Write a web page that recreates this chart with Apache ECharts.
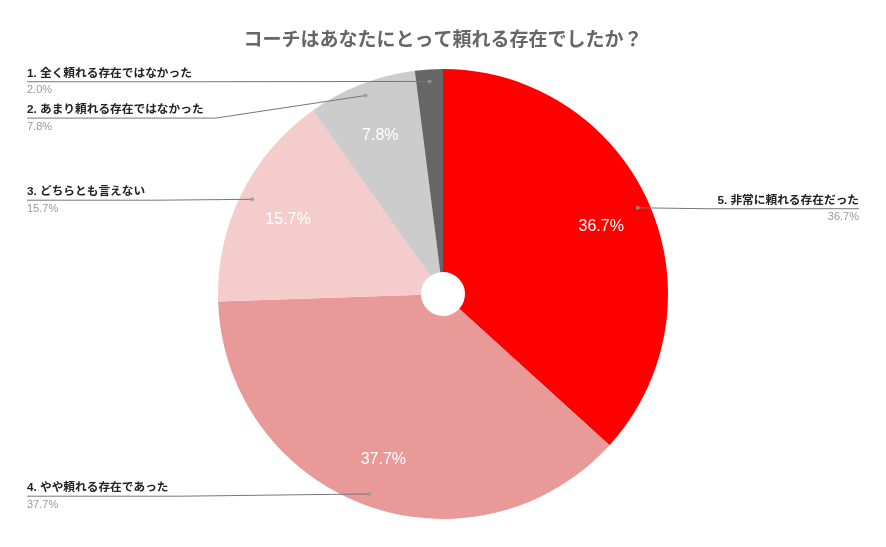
<!DOCTYPE html>
<html><head><meta charset="utf-8">
<script src="https://cdn.jsdelivr.net/npm/echarts@6/dist/echarts.min.js"></script>
<style>html,body{margin:0;padding:0;background:#fff}#c{width:886px;height:547px}</style>
</head><body><div id="c"></div>
<script>
const titleText = 'コーチはあなたにとって頼れる存在でしたか？';
const categories = [
  '5. 非常に頼れる存在だった',
  '4. やや頼れる存在であった',
  '3. どちらとも言えない',
  '2. あまり頼れる存在ではなかった',
  '1. 全く頼れる存在ではなかった'
];
const values = [36.7, 37.7, 15.7, 7.8, 2.0];
const colors = ['#ff0000', '#ea9999', '#f4cccc', '#cccccc', '#666666'];

const FONT = '"Liberation Sans", Arial, "Noto Sans CJK JP", sans-serif';
const CENTER = [443, 294];
const DOT_R = 213;
const total = values.reduce((a, b) => a + b, 0);
const mids = [];
let acc = 0;
values.forEach(v => { mids.push(acc + v / 2); acc += v; });
const fmt = v => v.toFixed(1) + '%';
const pieData = (withColor) => categories.map((c, i) => ({
  name: c, value: values[i],
  itemStyle: withColor ? { color: colors[i] } : { color: 'rgba(0,0,0,0)', borderWidth: 0 }
}));
function dotPoint(i) {
  const a = mids[i] / total * Math.PI * 2;
  return [CENTER[0] + DOT_R * Math.sin(a), CENTER[1] - DOT_R * Math.cos(a)];
}

const chart = echarts.init(document.getElementById('c'), null, { renderer: 'canvas' });
chart.setOption({
  backgroundColor: '#fff',
  animation: false,
  title: {
    text: titleText, left: 'center', top: 31, padding: 0,
    textStyle: { fontFamily: FONT, fontSize: 19, fontWeight: 'bold', color: '#666' }
  },
  polar: { center: CENTER, radius: DOT_R },
  angleAxis: { type: 'value', min: 0, max: total, startAngle: 90, clockwise: true, show: false },
  radiusAxis: { type: 'value', min: 0, max: 1, show: false },
  series: [
    {
      type: 'pie', z: 1, center: CENTER, radius: [22, 225], startAngle: 90, clockwise: true,
      silent: true, label: { show: false }, labelLine: { show: false },
      itemStyle: { borderWidth: 0 },
      data: pieData(true)
    },
    {
      type: 'pie', z: 2, center: CENTER, radius: [115, 225], startAngle: 90, clockwise: true,
      silent: true, minShowLabelAngle: 10,
      label: {
        position: 'inside', formatter: p => fmt(p.value), offset: [0, 3],
        color: '#fff', fontSize: 16, fontFamily: FONT
      },
      labelLine: { show: false },
      data: pieData(false)
    },
    {
      type: 'pie', z: 3, center: CENTER, radius: [0, DOT_R], startAngle: 90, clockwise: true,
      silent: true, avoidLabelOverlap: true,
      label: {
        position: 'outside', alignTo: 'edge', edgeDistance: 27, minMargin: 8,
        formatter: p => '{n|' + p.name + '}\n{v|' + fmt(p.value) + '}',
        rich: {
          n: { fontFamily: FONT, fontSize: 11.7, fontWeight: 'bold', color: '#222', lineHeight: 20 },
          v: { fontFamily: FONT, fontSize: 11, color: '#999', lineHeight: 14 }
        }
      },
      labelLine: { show: true, length: 1, length2: 0, lineStyle: { color: '#777', width: 1 } },
      labelLayout: function (params) {
        const r = params.labelRect;
        const isLeft = r.x + r.width / 2 < CENTER[0];
        const cy = r.y + r.height / 2;
        return {
          labelLinePoints: [
            dotPoint(params.dataIndex),
            [isLeft ? r.x + r.width + 12 : r.x - 12, cy],
            [isLeft ? r.x : r.x + r.width, cy]
          ]
        };
      },
      data: pieData(false)
    },
    {
      type: 'scatter', coordinateSystem: 'polar', symbolSize: 4, silent: true, z: 5,
      itemStyle: { color: '#999' },
      data: mids.map(m => [1, m])
    }
  ]
});
</script>
</body></html>
